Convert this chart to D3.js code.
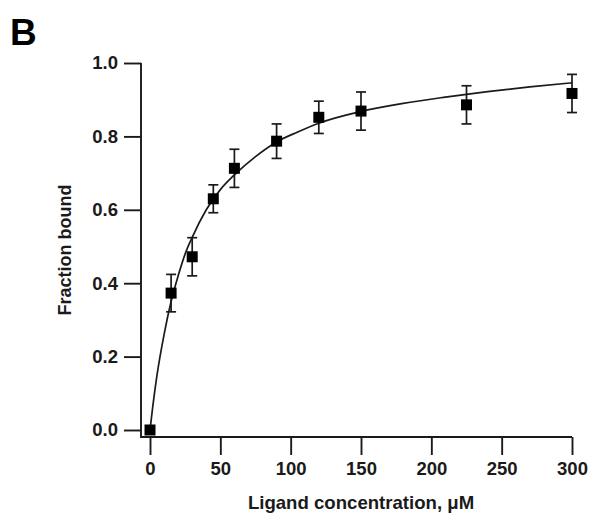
<!DOCTYPE html>
<html><head><meta charset="utf-8">
<script src="https://cdn.jsdelivr.net/npm/d3@7"></script>
<style>body{margin:0;background:#fff}svg{display:block}text{font-family:"Liberation Sans",Arial,sans-serif}</style>
</head><body>
<script>
// Measured data
const concentrations = [0, 15, 30, 45, 60, 90, 120, 150, 225, 300];
const fractionBound = [0.0, 0.373, 0.472, 0.630, 0.713, 0.787, 0.852, 0.869, 0.886, 0.917];
const errorHalf = [0.0, 0.051, 0.052, 0.038, 0.052, 0.047, 0.044, 0.052, 0.052, 0.052];
// Fitted curve
const fitX = [0, 2, 5, 10, 15, 20, 25, 30, 40, 50, 60, 75, 90, 105, 120, 150, 180, 210, 240, 270, 300];
const fitY = [0, 0.065, 0.15, 0.26, 0.35, 0.42, 0.48, 0.525, 0.60, 0.655, 0.695, 0.745, 0.785, 0.812, 0.836, 0.868, 0.89, 0.907, 0.922, 0.935, 0.946];
const xTicks = [0, 50, 100, 150, 200, 250, 300];
const yTicks = [0.0, 0.2, 0.4, 0.6, 0.8, 1.0];
const panelLabel = "B";
const xTitle = "Ligand concentration, \u03BCM";
const yTitle = "Fraction bound";

const W = 601, H = 528;
const svg = d3.select("body").append("svg").attr("width", W).attr("height", H);
const x = d3.scaleLinear().domain([0, 300]).range([150, 572]);
const y = d3.scaleLinear().domain([0, 1]).range([430, 63]);
const axX = 141, axY = 437;
const ink = "#1a1a1a";

// axes lines
svg.append("path").attr("d", `M${axX},${y(1)}V${axY}H${x(300)}`)
  .attr("fill", "none").attr("stroke", ink).attr("stroke-width", 1.9);

const ya = svg.append("g").attr("transform", `translate(${axX},0)`)
  .call(d3.axisLeft(y).tickValues(yTicks).tickFormat(d3.format(".1f")).tickSize(17).tickSizeOuter(0).tickPadding(6));
const xa = svg.append("g").attr("transform", `translate(0,${axY})`)
  .call(d3.axisBottom(x).tickValues(xTicks).tickFormat(d3.format("d")).tickSize(18).tickSizeOuter(0).tickPadding(7));
[ya, xa].forEach(g => {
  g.select(".domain").remove();
  g.selectAll(".tick line").attr("stroke", ink).attr("stroke-width", 1.9);
  g.selectAll(".tick text").attr("fill", ink).style("font-size", "18.5px").style("font-weight", "bold");
});

// fit curve
const line = d3.line().x((d, i) => x(fitX[i])).y(d => y(d)).curve(d3.curveMonotoneX);
svg.append("path").datum(fitY).attr("d", line)
  .attr("fill", "none").attr("stroke", ink).attr("stroke-width", 1.7);

// error bars
const eb = svg.append("g").attr("stroke", ink).attr("stroke-width", 1.7);
concentrations.forEach((c, i) => {
  if (errorHalf[i] <= 0) return;
  const cx = x(c), top = y(fractionBound[i] + errorHalf[i]), bot = y(fractionBound[i] - errorHalf[i]);
  eb.append("line").attr("x1", cx).attr("x2", cx).attr("y1", top).attr("y2", bot);
  eb.append("line").attr("x1", cx - 5).attr("x2", cx + 5).attr("y1", top).attr("y2", top);
  eb.append("line").attr("x1", cx - 5).attr("x2", cx + 5).attr("y1", bot).attr("y2", bot);
});

// markers
const s = 11;
svg.append("g").selectAll("rect").data(concentrations).join("rect")
  .attr("x", d => x(d) - s / 2).attr("y", (d, i) => y(fractionBound[i]) - s / 2)
  .attr("width", s).attr("height", s).attr("fill", "#000");

// titles
svg.append("text").attr("x", 361).attr("y", 509).attr("text-anchor", "middle")
  .style("font-size", "18.6px").style("font-weight", "bold").attr("fill", ink).text(xTitle);
svg.append("text").attr("transform", "translate(71,250) rotate(-90)").attr("text-anchor", "middle")
  .style("font-size", "18px").style("font-weight", "bold").attr("fill", ink).text(yTitle);
svg.append("text").attr("x", 10).attr("y", 45)
  .style("font-size", "37px").style("font-weight", "bold").attr("fill", "#000").text(panelLabel);
</script>
</body></html>
